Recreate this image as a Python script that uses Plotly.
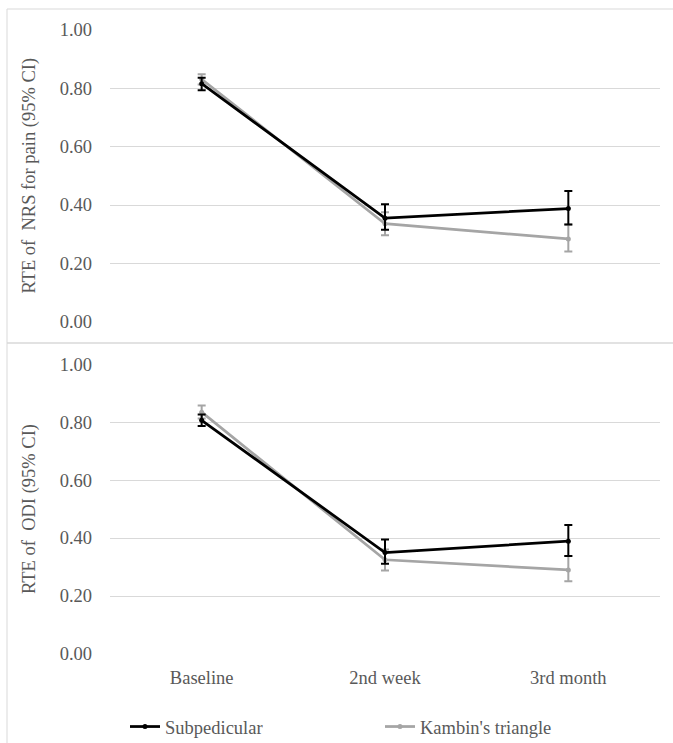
import plotly.graph_objects as go

W, H = 673, 743

categories = ["Baseline", "2nd week", "3rd month"]
series_names = ["Subpedicular", "Kambin's triangle"]

# Top panel: RTE of NRS for pain
nrs_sub = [0.815, 0.355, 0.388]
nrs_sub_hi = [0.835, 0.403, 0.448]
nrs_sub_lo = [0.792, 0.315, 0.333]
nrs_kam = [0.830, 0.336, 0.284]
nrs_kam_hi = [0.847, 0.375, 0.333]
nrs_kam_lo = [0.812, 0.297, 0.241]

# Bottom panel: RTE of ODI
odi_sub = [0.806, 0.350, 0.389]
odi_sub_hi = [0.826, 0.395, 0.445]
odi_sub_lo = [0.786, 0.311, 0.338]
odi_kam = [0.834, 0.325, 0.290]
odi_kam_hi = [0.857, 0.360, 0.338]
odi_kam_lo = [0.812, 0.288, 0.251]

y_ticks = [0.0, 0.2, 0.4, 0.6, 0.8, 1.0]
y_ticklabels = ["0.00", "0.20", "0.40", "0.60", "0.80", "1.00"]

BLACK = "#000000"
GRAY = "#a5a5a5"
TXT = "#595959"
GRID = "#d9d9d9"
FONT = "'Liberation Serif', 'Times New Roman', Times, serif"
FS = 18.5

fig = go.Figure()


def add_series(vals, hi, lo, color, name, xa, ya, show):
    fig.add_trace(go.Scatter(
        x=categories, y=vals, name=name, mode="lines+markers",
        line=dict(color=color, width=2.75),
        marker=dict(color=color, size=5, symbol="circle"),
        error_y=dict(type="data", symmetric=False,
                     array=[h - v for h, v in zip(hi, vals)],
                     arrayminus=[v - l for v, l in zip(vals, lo)],
                     color=color, thickness=2, width=4),
        xaxis=xa, yaxis=ya, showlegend=show, legendgroup=name,
    ))


add_series(nrs_kam, nrs_kam_hi, nrs_kam_lo, GRAY, series_names[1], "x", "y", False)
add_series(nrs_sub, nrs_sub_hi, nrs_sub_lo, BLACK, series_names[0], "x", "y", False)
add_series(odi_kam, odi_kam_hi, odi_kam_lo, GRAY, series_names[1], "x2", "y2", True)
add_series(odi_sub, odi_sub_hi, odi_sub_lo, BLACK, series_names[0], "x2", "y2", True)

xd = [110 / W, 660 / W]
top_dom = [1 - 322 / H, 1 - 29.5 / H]
bot_dom = [1 - 654 / H, 1 - 364 / H]

xcommon = dict(domain=xd, range=[-0.5, 2.5], showgrid=False, zeroline=False,
               showline=False, ticks="", ticklabelstandoff=10, automargin=False,
               tickfont=dict(family=FONT, size=FS, color=TXT))
ycommon = dict(range=[0, 1.0001], tickvals=y_ticks, ticktext=y_ticklabels,
               showgrid=True, gridcolor=GRID, gridwidth=1, zeroline=False,
               showline=False, ticks="", ticklabelstandoff=17, automargin=False,
               tickfont=dict(family=FONT, size=FS, color=TXT))

fig.update_layout(
    width=W, height=H,
    margin=dict(l=0, r=0, t=0, b=0, autoexpand=False),
    paper_bgcolor="white", plot_bgcolor="white",
    font=dict(family=FONT, size=FS, color=TXT),
    xaxis=dict(**xcommon, anchor="y", showticklabels=False),
    yaxis=dict(**ycommon, domain=top_dom, anchor="x",
               title=dict(text="RTE of  NRS for pain (95% CI)", standoff=19,
                          font=dict(family=FONT, size=FS, color=TXT))),
    xaxis2=dict(**xcommon, anchor="y2", showticklabels=True),
    yaxis2=dict(**ycommon, domain=bot_dom, anchor="x2",
                title=dict(text="RTE of  ODI (95% CI)", standoff=19,
                           font=dict(family=FONT, size=FS, color=TXT))),
    legend=dict(orientation="h", x=125 / W, xanchor="left", y=1 - 727 / H, yanchor="middle",
                yref="container", xref="container",
                traceorder="reversed", entrywidth=210, entrywidthmode="pixels",
                font=dict(family=FONT, size=FS, color=TXT), bgcolor="rgba(0,0,0,0)"),
    shapes=[
        dict(type="line", xref="paper", yref="paper", x0=7 / W, x1=1, y0=1 - 9 / H, y1=1 - 9 / H,
             line=dict(color=GRID, width=1)),
        dict(type="line", xref="paper", yref="paper", x0=7 / W, x1=7 / W, y0=0, y1=1 - 9 / H,
             line=dict(color=GRID, width=1)),
        dict(type="line", xref="paper", yref="paper", x0=7 / W, x1=1, y0=1 - 343 / H, y1=1 - 343 / H,
             line=dict(color=GRID, width=1.5)),
    ],
)

fig.write_html("out.html")
